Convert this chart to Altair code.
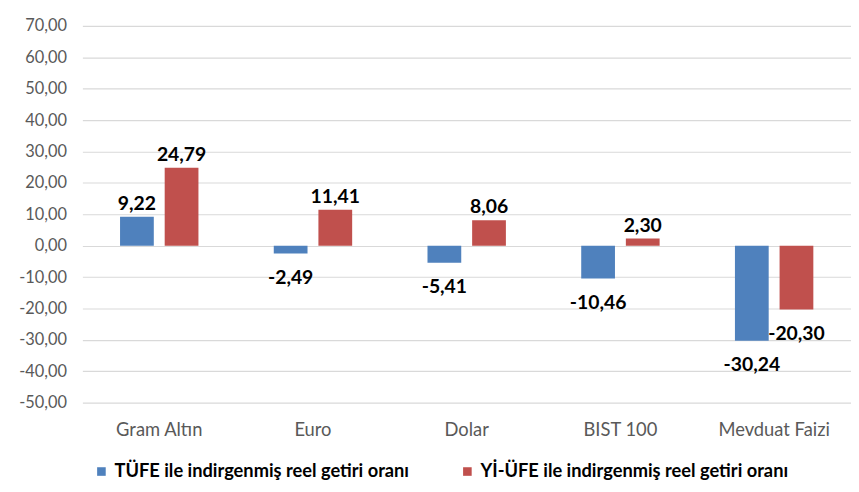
import altair as alt
import pandas as pd

categories = ["Gram Altın", "Euro", "Dolar", "BIST 100", "Mevduat Faizi"]
series = ["TÜFE ile indirgenmiş reel getiri oranı", "Yİ-ÜFE ile indirgenmiş reel getiri oranı"]
tufe = [9.22, -2.49, -5.41, -10.46, -30.24]
yiufe = [24.79, 11.41, 8.06, 2.30, -20.30]
colors = ["#4F81BD", "#C0504D"]

rows = []
for c, a, b in zip(categories, tufe, yiufe):
    rows.append({"cat": c, "series": series[0], "value": a})
    rows.append({"cat": c, "series": series[1], "value": b})
df = pd.DataFrame(rows)

FONT = "Lato"
FMT = "replace(replace(format({v}, '.2f'), '.', ','), '\u2212', '-')"

x = alt.X("cat:N", sort=categories, title=None,
          scale=alt.Scale(paddingInner=0.49, paddingOuter=0.245),
          axis=alt.Axis(labelAngle=0, domain=False, ticks=False, labelPadding=18,
                        labelFont=FONT, labelFontSize=18.5, labelColor="#595959"))
xo = alt.XOffset("series:N", sort=series, scale=alt.Scale(paddingInner=0.244))
y = alt.Y("value:Q", title=None,
          scale=alt.Scale(domain=[-50, 70], nice=False, zero=False),
          axis=alt.Axis(values=list(range(-50, 71, 10)), domain=False, ticks=False,
                        labelExpr=FMT.format(v="datum.value"),
                        labelFont=FONT, labelFontSize=16.5, labelColor="#595959",
                        labelPadding=16, gridColor="#D9D9D9", gridWidth=1.2))

base = alt.Chart(df).transform_calculate(
    label=FMT.format(v="datum.value")
)

bars = base.mark_bar().encode(
    x=x, xOffset=xo, y=y,
    color=alt.Color("series:N", sort=series,
                    scale=alt.Scale(domain=series, range=colors),
                    legend=alt.Legend(title=None, orient="none", direction="horizontal",
                                      legendX=10, legendY=440,
                                      symbolType="square", symbolSize=75,
                                      symbolStrokeWidth=0,
                                      labelFont=FONT, labelFontSize=18.4,
                                      labelFontWeight="bold", labelColor="#000000",
                                      columnPadding=49, labelLimit=500))
)

pos = base.transform_filter("datum.value >= 0").mark_text(
    font=FONT, fontSize=19.5, fontWeight="bold", color="#000000",
    baseline="alphabetic", dy=-7
).encode(x=x, xOffset=xo, y=y, text="label:N")

neg = base.transform_filter("datum.value < 0").mark_text(
    font=FONT, fontSize=19.5, fontWeight="bold", color="#000000",
    baseline="alphabetic", dy=31
).encode(x=x, xOffset=xo, y=y, text="label:N")

chart = alt.layer(bars, pos, neg).properties(
    width=775, height=380,
    autosize=alt.AutoSizeParams(type="none"),
    padding={"left": 75, "top": 16, "right": 0, "bottom": 80},
).configure_view(stroke=None)

chart.save("out.html", embed_options={"renderer": "svg", "actions": False})
